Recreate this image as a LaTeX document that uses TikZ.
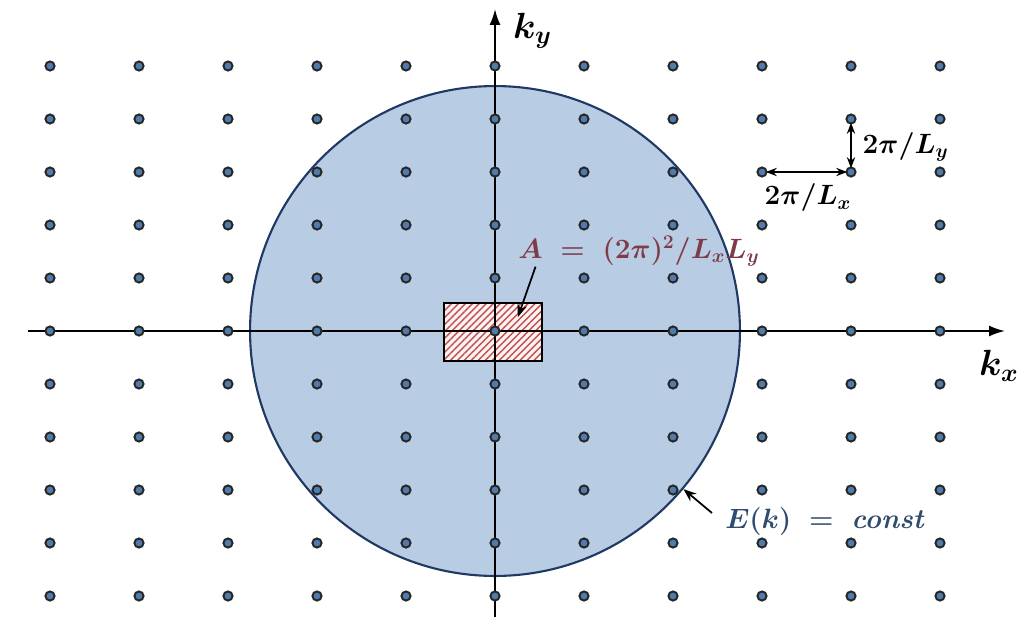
\documentclass[tikz,border=0pt]{standalone}
\usepackage{amsmath,bm}
\usetikzlibrary{arrows.meta,patterns.meta,calc}
\definecolor{kfill}{HTML}{B8CCE4}
\definecolor{kedge}{HTML}{1F3864}
\definecolor{kdot}{HTML}{4F7BAE}
\definecolor{khatch}{HTML}{C0504D}
\definecolor{kmaroon}{HTML}{7F3B4A}
\definecolor{knavy}{HTML}{2F4B6E}

\begin{document}
\begin{tikzpicture}[
  x=0.02cm,y=0.02cm,
  dot/.style={circle,draw=black!85,fill=kdot,line width=1.1pt,inner sep=0pt,minimum size=5.2pt},
  fermi/.style={circle,draw=kedge,fill=kfill,line width=1.2pt,minimum size=9.8cm,inner sep=0pt},
  cell/.style={draw=black,line width=1pt,preaction={fill=red!5},pattern={Lines[angle=45,distance=2.8pt,line width=0.8pt]},pattern color=khatch,minimum width=1.96cm,minimum height=1.16cm,inner sep=0pt},
  axis/.style={-{Latex[length=3.2mm,width=2.2mm]},line width=1.1pt},
  gap/.style={{Stealth[length=2.2mm]}-{Stealth[length=2.2mm]},line width=1pt,shorten <=-1pt,shorten >=-1pt},
  pointer/.style={-{Stealth[length=2.6mm]},line width=1pt},
  big/.style={font=\fontsize{20.74}{24}\selectfont\boldmath},
  lab/.style={font=\fontsize{17.28}{20}\selectfont\boldmath,scale=0.92,transform shape}
]
  \useasboundingbox (-495,-285) rectangle (528,331);
  % Fermi circle and unit cell
  \node[fermi] (circ) at (0,0) {};
  \node[cell] (cell) at (-2,-1) {};
  % axes
  \coordinate (xl) at (-467,0);
  \coordinate (xr) at (510,0);
  \coordinate (yb) at (0,-290);
  \coordinate (yt) at (0,322);
  \draw[axis] (xl) -- (xr);
  \draw[axis] (yb) -- (yt);
  \node[big,anchor=west] (kx) at (478,-35) {$k_x$};
  \node[big,anchor=west] (ky) at (12,300) {$k_y$};
  % lattice of allowed k
  \foreach \i in {-5,...,5}
    \foreach \j in {-5,...,5}
      \node[dot] (p\i-\j) at (\i*89,\j*53) {};
  % spacings
  \draw[gap] (p4-4) -- (p4-3);
  \draw[gap] (p3-3) -- (p4-3);
  \node[lab,anchor=west] (ly) at (362,184) {$2\pi/L_y$};
  \node[lab] (lx) at (313,133) {$2\pi/L_x$};
  % labels
  \node[lab,text=kmaroon,anchor=west,inner sep=0pt] (area) at (23,80) {$A\;=\;(2\pi)^2/L_xL_y$};
  \draw[pointer] ([xshift=10]area.south west) -- ($(cell.center)!0.5!(cell.north east)$);
  \node[lab,text=knavy,anchor=west,inner sep=0pt] (energy) at (230,-191) {$E(k)\;=\;\mathit{const}$};
  \draw[pointer] ([shift={(-13,9)}]energy.west) -- (circ.-40);
\end{tikzpicture}
\end{document}
